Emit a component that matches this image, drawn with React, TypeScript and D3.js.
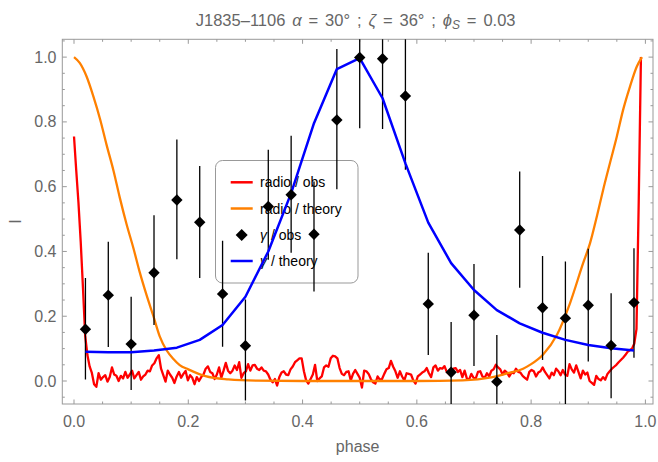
import React from "react";
import * as d3 from "d3";

// ---------- DATA ----------
// radio / obs : profile bins, phase = bin / 256
const radioObs: number[] = [
  0.755, 0.65, 0.55, 0.43, 0.29, 0.14, 0.08, 0.045, 0.025, -0.01, -0.018,
  0.024, 0.004, 0.012, 0.018, -0.002, 0.012, 0.042, 0.02, 0.016, 0.0,
  0.016, 0.008, 0.028, 0.01, 0.02, 0.032, 0.008, 0.018, 0.028, 0.004,
  0.014, 0.02, 0.032, 0.03, 0.048, 0.055, 0.07, 0.08, 0.038, 0.018,
  -0.002, 0.032, 0.02, 0.01, -0.006, 0.014, 0.028, 0.01, 0.022, 0.031,
  0.002, 0.018, 0.01, -0.01, 0.012, 0.0, 0.012, 0.02, 0.038, 0.045,
  0.028, 0.024, 0.006, 0.02, 0.042, 0.01, 0.032, 0.056, 0.032, 0.024,
  0.032, 0.048, 0.034, 0.058, 0.01, 0.024, 0.03, 0.052, 0.032, 0.048,
  0.05, 0.038, 0.034, 0.042,
  0.032, 0.03, 0.02, 0.004, -0.004, 0.006, -0.014, 0.012, 0.026, 0.03,
  0.02, 0.018, 0.036, 0.045, 0.058, 0.064, 0.07, 0.07, 0.03, 0.002,
  -0.008, 0.006, 0.02, 0.05, 0.0, 0.008, 0.014, 0.042, 0.048, 0.044,
  0.07, 0.078, 0.076, 0.07, 0.04, 0.022, 0.018, 0.028, 0.03, 0.002,
  0.022, 0.034, 0.022, 0.01, -0.02, 0.032, 0.03, 0.022, 0.006, -0.004,
  -0.008, 0.014, 0.004, 0.006, 0.022, 0.036, 0.04, 0.062, 0.044, 0.03,
  0.01, 0.03, 0.014, 0.002, 0.024, 0.022, 0.02, 0.002, -0.008, 0.014,
  0.02, 0.026, 0.03, 0.04, 0.024, 0.012, 0.042, 0.048, 0.032, 0.04,
  0.038, 0.046, 0.028, 0.022, 0.016, 0.038, 0.04, 0.028, 0.034,
  0.012, 0.032, 0.008, 0.004, 0.022, 0.01, 0.008, 0.028, 0.03, 0.014,
  0.01, 0.024, 0.014, 0.032, 0.036, 0.05, 0.042, 0.036, 0.02, 0.032,
  0.026, 0.014, 0.026, 0.024, 0.038, 0.028, 0.026, 0.016, 0.01, 0.004,
  0.028, 0.034, 0.03, 0.014, 0.026, 0.03, 0.042, 0.028, 0.018, 0.008,
  0.026, 0.018, 0.038, 0.03, 0.018, 0.034, 0.02, 0.016, 0.052, 0.036,
  0.026, 0.048, 0.028, 0.008, 0.032, 0.02, 0.026, 0.0, -0.006, -0.012,
  0.016, 0.006, 0.002, 0.012, 0.004, 0.022, 0.03, 0.038, 0.044,
  0.05, 0.058, 0.065, 0.072, 0.08, 0.09, 0.095, 0.1, 0.115, 0.16, 0.55, 1.0,
];

// radio / theory
const radioTheoryPhase: number[] = [
  0.0, 0.01, 0.022, 0.034, 0.046, 0.057, 0.069, 0.08, 0.092, 0.104, 0.115,
  0.127, 0.139, 0.15, 0.162, 0.174, 0.185, 0.2, 0.23, 0.27, 0.32, 0.4, 0.5,
  0.6, 0.68, 0.73, 0.759, 0.786, 0.8, 0.821, 0.845, 0.868, 0.891, 0.903,
  0.915, 0.926, 0.938, 0.95, 0.961, 0.973, 0.985, 0.994,
];
const radioTheory: number[] = [
  1.0, 0.982, 0.94, 0.878, 0.806, 0.729, 0.65, 0.567, 0.484, 0.41, 0.336,
  0.265, 0.2, 0.138, 0.095, 0.068, 0.049, 0.036, 0.015, 0.005, 0.001, 0.0, 0.0,
  0.0, 0.002, 0.011, 0.024, 0.038, 0.052, 0.082, 0.142, 0.24, 0.364, 0.425,
  0.508, 0.59, 0.673, 0.755, 0.837, 0.909, 0.971, 1.0,
];

// gamma / obs and gamma / theory share phases
const gammaPhase: number[] = [
  0.02, 0.06, 0.1, 0.14, 0.18, 0.22, 0.26, 0.3, 0.34, 0.38, 0.42, 0.46, 0.5,
  0.54, 0.58, 0.62, 0.66, 0.7, 0.74, 0.78, 0.82, 0.86, 0.9, 0.94, 0.98,
];
const gammaObs: number[] = [
  0.16, 0.265, 0.114, 0.334, 0.559, 0.49, 0.269, 0.109, 0.539, 0.575, 0.453,
  0.806, 0.999, 0.995, 0.88, 0.238, 0.027, 0.203, -0.002, 0.466, 0.226, 0.194,
  0.234, 0.11, 0.242,
];
const gammaUpper: number[] = [
  0.318, 0.43, 0.26, 0.512, 0.746, 0.664, 0.433, 0.252, 0.714, 0.757, 0.616,
  1.025, 1.22, 1.21, 1.11, 0.396, 0.182, 0.361, 0.142, 0.647, 0.386, 0.369,
  0.408, 0.271, 0.41,
];
const gammaLower: number[] = [
  0.005, 0.105, -0.028, 0.173, 0.376, 0.318, 0.106, -0.06, 0.374, 0.396, 0.276,
  0.592, 0.78, 0.778, 0.652, 0.08, -0.15, 0.046, -0.15, 0.288, 0.065, -0.1,
  0.06, -0.053, 0.072,
];
const gammaTheory: number[] = [
  0.0906, 0.0885, 0.0885, 0.094, 0.103, 0.127, 0.173, 0.26, 0.4, 0.58, 0.796,
  0.963, 0.997, 0.873, 0.672, 0.489, 0.364, 0.281, 0.219, 0.178, 0.149, 0.127,
  0.111, 0.101, 0.094,
];

const xTicks: number[] = [0, 0.2, 0.4, 0.6, 0.8, 1.0];
const yTicks: number[] = [0, 0.2, 0.4, 0.6, 0.8, 1.0];
const legendLabels: string[] = ["radio / obs", "radio / theory", "γ / obs", "γ / theory"];

// ---------- LAYOUT ----------
const W = 658;
const H = 462;
const F = { left: 62.3, right: 653, top: 39.3, bottom: 404 };
const RED = "#ff0000";
const ORANGE = "#ff8000";
const BLUE = "#0000ff";
const GRAY = "#666666";
const FRAME = "#999999";
const FONT = "'Liberation Sans', Arial, Helvetica, sans-serif";

export default function App() {
  const x = d3.scaleLinear().domain([-0.0205, 1.0133]).range([F.left, F.right]);
  const y = d3.scaleLinear().domain([-0.071, 1.055]).range([F.bottom, F.top]);

  const lineXY = d3
    .line<[number, number]>()
    .x((d) => x(d[0]))
    .y((d) => y(d[1]));

  const redPts: [number, number][] = radioObs.map((v, i) => [i / 256, v]);
  const orangePts: [number, number][] = radioTheoryPhase.map((p, i) => [p, radioTheory[i]]);
  const bluePts: [number, number][] = gammaPhase.map((p, i) => [p, gammaTheory[i]]);

  const orangeLine = d3
    .line<[number, number]>()
    .x((d) => x(d[0]))
    .y((d) => y(d[1]))
    .curve(d3.curveMonotoneX);

  const minorX = d3.range(0, 1.0001, 0.05).filter((v) => Math.abs(v * 5 - Math.round(v * 5)) > 1e-6);
  const minorY = d3.range(-0.05, 1.0501, 0.05).filter((v) => Math.abs(v * 5 - Math.round(v * 5)) > 1e-6);

  const diamond = (cx: number, cy: number, r: number) =>
    `M${cx},${cy - r}L${cx + r},${cy}L${cx},${cy + r}L${cx - r},${cy}Z`;

  const legX = 215.5;
  const legY = 160.5;
  const legRows = [182.3, 208.5, 235, 261];
  const midX = (F.left + F.right) / 2;

  return (
    <svg
      width={W}
      height={H}
      style={{ position: "absolute", left: 0, top: 0, background: "#fff" }}
      fontFamily={FONT}
    >
      <defs>
        <clipPath id="plotclip">
          <rect x={F.left} y={F.top} width={F.right - F.left} height={F.bottom - F.top} />
        </clipPath>
      </defs>
      <rect x={0} y={0} width={W} height={H} fill="#fff" />

      {/* title */}
      <text x={midX - 2} y={25.5} textAnchor="middle" fontSize={16.5} fill={GRAY} wordSpacing={2.3}>
        <tspan>{"J1835–1106 "}</tspan>
        <tspan fontStyle="italic">{"α"}</tspan>
        <tspan>{" = 30° ; "}</tspan>
        <tspan fontStyle="italic">{"ζ"}</tspan>
        <tspan>{" = 36° ; "}</tspan>
        <tspan fontStyle="italic">{"ϕ"}</tspan>
        <tspan fontStyle="italic" fontSize={12} dy={3.5}>{"S"}</tspan>
        <tspan dy={-3.5}>{" = 0.03"}</tspan>
      </text>

      {/* frame */}
      <rect
        x={F.left}
        y={F.top}
        width={F.right - F.left}
        height={F.bottom - F.top}
        fill="none"
        stroke={FRAME}
        strokeWidth={1}
      />

      {/* ticks */}
      <g stroke={FRAME} strokeWidth={1}>
        {xTicks.map((t) => (
          <g key={"xt" + t}>
            <line x1={x(t)} x2={x(t)} y1={F.bottom} y2={F.bottom - 4.5} />
            <line x1={x(t)} x2={x(t)} y1={F.top} y2={F.top + 4.5} />
          </g>
        ))}
        {minorX.map((t) => (
          <g key={"xm" + t}>
            <line x1={x(t)} x2={x(t)} y1={F.bottom} y2={F.bottom - 2.5} />
            <line x1={x(t)} x2={x(t)} y1={F.top} y2={F.top + 2.5} />
          </g>
        ))}
        {yTicks.map((t) => (
          <g key={"yt" + t}>
            <line x1={F.left} x2={F.left + 4.5} y1={y(t)} y2={y(t)} />
            <line x1={F.right} x2={F.right - 4.5} y1={y(t)} y2={y(t)} />
          </g>
        ))}
        {minorY.map((t) => (
          <g key={"ym" + t}>
            <line x1={F.left} x2={F.left + 2.5} y1={y(t)} y2={y(t)} />
            <line x1={F.right} x2={F.right - 2.5} y1={y(t)} y2={y(t)} />
          </g>
        ))}
      </g>

      {/* tick labels */}
      <g fontSize={16} fill={GRAY}>
        {xTicks.map((t) => (
          <text key={"xl" + t} x={x(t)} y={427} textAnchor="middle">
            {d3.format(".1f")(t)}
          </text>
        ))}
        {yTicks.map((t) => (
          <text key={"yl" + t} x={56.5} y={y(t) + 5.6} textAnchor="end">
            {d3.format(".1f")(t)}
          </text>
        ))}
      </g>

      {/* axis labels */}
      <text x={midX} y={452} textAnchor="middle" fontSize={16} fill={GRAY}>
        phase
      </text>
      <text
        x={0}
        y={0}
        transform={`translate(21,${(F.top + F.bottom) / 2}) rotate(-90)`}
        textAnchor="middle"
        fontSize={16}
        fill={GRAY}
      >
        I
      </text>

      {/* legend (underneath data) */}
      <g>
        <rect
          x={legX}
          y={legY}
          width={142.5}
          height={122.5}
          rx={7}
          ry={7}
          fill="none"
          stroke={FRAME}
          strokeWidth={1}
        />
        <line x1={230.7} x2={252.7} y1={legRows[0]} y2={legRows[0]} stroke={RED} strokeWidth={2.5} />
        <line x1={230.7} x2={252.7} y1={legRows[1]} y2={legRows[1]} stroke={ORANGE} strokeWidth={2.5} />
        <path d={diamond(241.7, legRows[2], 6)} fill="#000" />
        <line x1={230.7} x2={252.7} y1={legRows[3]} y2={legRows[3]} stroke={BLUE} strokeWidth={2.5} />
        <g fontSize={14} fill="#000">
          <text x={260} y={legRows[0] + 5}>{legendLabels[0]}</text>
          <text x={260} y={legRows[1] + 5}>{legendLabels[1]}</text>
          <text x={260} y={legRows[2] + 5}>
            <tspan fontStyle="italic">{legendLabels[2].slice(0, 1)}</tspan>
            <tspan>{legendLabels[2].slice(1)}</tspan>
          </text>
          <text x={260} y={legRows[3] + 5}>
            <tspan fontStyle="italic">{legendLabels[3].slice(0, 1)}</tspan>
            <tspan>{legendLabels[3].slice(1)}</tspan>
          </text>
        </g>
      </g>

      {/* data */}
      <g clipPath="url(#plotclip)">
        <path d={lineXY(redPts) || ""} fill="none" stroke={RED} strokeWidth={2.3} strokeLinejoin="round" />
        <path d={orangeLine(orangePts) || ""} fill="none" stroke={ORANGE} strokeWidth={2.3} />
        <g stroke="#000" strokeWidth={1.3}>
          {gammaPhase.map((p, i) => (
            <line key={"eb" + i} x1={x(p)} x2={x(p)} y1={y(gammaUpper[i])} y2={y(gammaLower[i])} />
          ))}
        </g>
        <path d={lineXY(bluePts) || ""} fill="none" stroke={BLUE} strokeWidth={2.5} strokeLinejoin="round" />
        <g fill="#000">
          {gammaPhase.map((p, i) => (
            <path key={"dm" + i} d={diamond(x(p), y(gammaObs[i]), 5.7)} />
          ))}
        </g>
      </g>
    </svg>
  );
}
